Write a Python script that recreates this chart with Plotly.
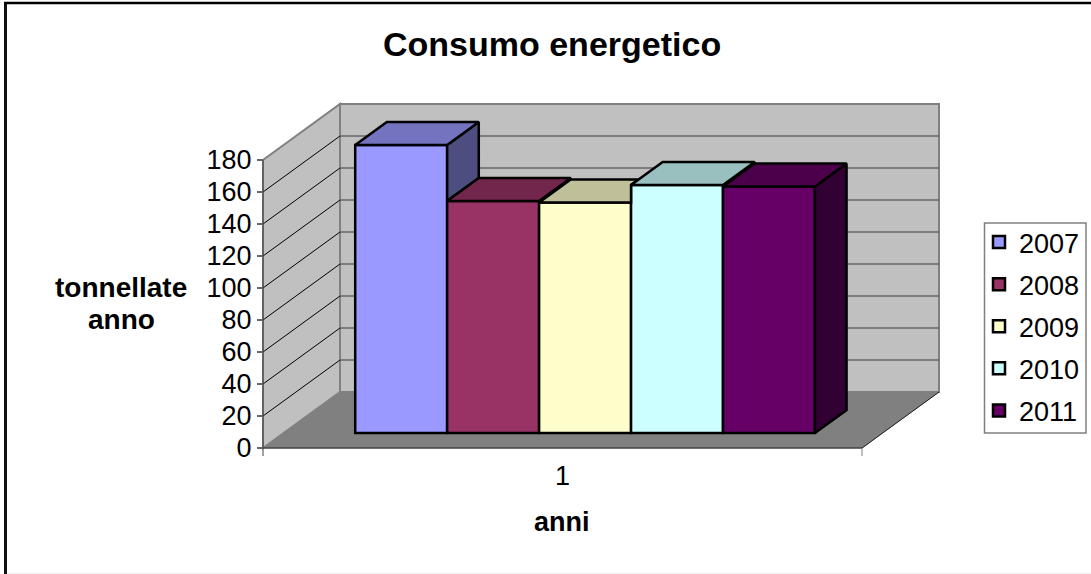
import plotly.graph_objects as go

# --- data ---
YEARS = ["2007", "2008", "2009", "2010", "2011"]
VALUES = [180, 145, 144, 155, 154]
COLORS = ["#9999FF", "#993366", "#FFFFCC", "#CCFFFF", "#660066"]
TOP_COLORS = ["#7373BF", "#72264C", "#BFBF99", "#99BFBF", "#4C004C"]
SIDE_COLORS = ["#4D4D80", "#4D1A33", "#808066", "#668080", "#330033"]
Y_TICKS = list(range(0, 181, 20))
TITLE = "Consumo energetico"
Y_TITLE_LINES = ["tonnellate", "anno"]
X_TITLE = "anni"
CATEGORY_LABEL = "1"

# --- layout constants ---
W, H = 1091, 574
X0_PX, X1_PX = 263, 862
Y0_PX = 448
PX_PER_UNIT = 1.6
X_SCALE = X1_PX - X0_PX
DEPTH_X = 77 / X_SCALE
DEPTH_Y = 56 / PX_PER_UNIT
D0, D1 = 15 / 56, 38 / 56
BAR_START = 0.1195
BAR_W = 0.1535
Y_MAX = 180
LW = 2.5


def proj(x, d, v):
    return x + d * DEPTH_X, v + d * DEPTH_Y


def path(points):
    return "M" + "L".join(f"{x},{y}" for x, y in points) + "Z"


def poly_shape(points, fill, line_color, width=1):
    return dict(type="path", xref="x", yref="y", path=path(points), fillcolor=fill,
                line=dict(color=line_color, width=width), layer="below")


def line_shape(a, b, color, width=1):
    return dict(type="line", xref="x", yref="y", x0=a[0], y0=a[1], x1=b[0], y1=b[1],
                line=dict(color=color, width=width), layer="below")


def paper_line(x0, y0, x1, y1, color, width):
    return dict(type="line", xref="paper", yref="paper", x0=x0 / W, x1=x1 / W, y0=1 - y0 / H, y1=1 - y1 / H,
                line=dict(color=color, width=width), layer="below")


shapes = [
    # chart frame
    paper_line(5.5, 2, 5.5, H, "#111111", 3),
    paper_line(4, 3, W, 3, "#000000", 2.5),
    paper_line(7, H - 0.5, W, H - 0.5, "#EEEEEE", 1),
    # legend box
    dict(type="rect", xref="paper", yref="paper", x0=984.5 / W, x1=1086 / W, y0=1 - 223 / H, y1=1 - 433 / H,
         line=dict(color="#808080", width=1.5), fillcolor="#FFFFFF", layer="below"),
    # walls and floor
    poly_shape([proj(0, 1, 0), proj(1, 1, 0), proj(1, 1, Y_MAX), proj(0, 1, Y_MAX)], "#C0C0C0", "#808080", 2),
    poly_shape([proj(0, 0, 0), proj(0, 1, 0), proj(0, 1, Y_MAX), proj(0, 0, Y_MAX)], "#C0C0C0", "#808080", 2),
    poly_shape([proj(0, 0, 0), proj(1, 0, 0), proj(1, 1, 0), proj(0, 1, 0)], "#808080", "#808080", 1),
]
for t in Y_TICKS[1:]:
    if t != Y_MAX:
        shapes.append(line_shape(proj(0, 1, t), proj(1, 1, t), "#666666", 1.5))
        shapes.append(line_shape(proj(0, 0, t), proj(0, 1, t), "#000000", 1))
shapes += [
    line_shape(proj(0, 0, 0), proj(1, 0, 0), "#222222", 1),
    line_shape(proj(1, 0, 0), proj(1, 1, 0), "#222222", 1),
    line_shape(proj(0, 0, -5), proj(0, 0, Y_MAX), "#444444", 1),
    line_shape(proj(1, 0, -5), proj(1, 0, 0), "#808080", 1),
]

fig = go.Figure()

# front faces: real bars, lifted by the depth of the bars on the floor
for i, (year, val, col) in enumerate(zip(YEARS, VALUES, COLORS)):
    left = BAR_START + i * BAR_W
    fig.add_trace(go.Bar(
        x=[left + BAR_W / 2 + D0 * DEPTH_X], y=[val], base=[D0 * DEPTH_Y], width=BAR_W,
        name=year, legendgroup=year, marker=dict(color=col, line=dict(color="#000000", width=LW)),
        hovertemplate=f"{year}: %{{y}}<extra></extra>",
    ))


def face(points, fill):
    xs = [p[0] for p in points] + [points[0][0]]
    ys = [p[1] for p in points] + [points[0][1]]
    fig.add_trace(go.Scatter(x=xs, y=ys, mode="lines", fill="toself", fillcolor=fill,
                             line=dict(color="#000000", width=LW), showlegend=False,
                             hoverinfo="skip"))


# top and side faces, with what the next bar hides cut away
for i, val in enumerate(VALUES):
    left = BAR_START + i * BAR_W
    right = left + BAR_W
    nxt = VALUES[i + 1] if i + 1 < len(VALUES) else 0
    if nxt < val:
        face([proj(right, D0, max(nxt, 0)), proj(right, D1, max(nxt, 0)),
              proj(right, D1, val), proj(right, D0, val)], SIDE_COLORS[i])
    if nxt > val:
        # back edge of this top meets the left edge of the taller neighbour's top
        rise = (D1 - D0) * DEPTH_Y
        t = max(0, (val + rise - nxt) / rise)
        cut_x = proj(right, D0 + t * (D1 - D0), nxt)[0]
        pts = [proj(left, D0, val), proj(right, D0, val), proj(right, D0, nxt),
               (cut_x, val + D1 * DEPTH_Y), proj(left, D1, val)]
    else:
        pts = [proj(left, D0, val), proj(right, D0, val), proj(right, D1, val), proj(left, D1, val)]
    face(pts, TOP_COLORS[i])

font = "Liberation Sans"
annotations = [
    dict(text=f"<b>{TITLE}</b>", xref="paper", yref="paper", x=552 / W, y=1 - 44 / H, showarrow=False,
         xanchor="center", yanchor="middle", font=dict(size=34)),
    dict(text=f"<b>{X_TITLE}</b>", xref="paper", yref="paper", x=562 / W, y=1 - 522 / H, showarrow=False,
         xanchor="center", yanchor="middle", font=dict(size=27)),
]
for line, y_px in zip(Y_TITLE_LINES, [287, 319]):
    annotations.append(dict(text=f"<b>{line}</b>", xref="paper", yref="paper", x=121 / W, y=1 - y_px / H,
                            showarrow=False, xanchor="center", yanchor="middle", font=dict(size=28)))

fig.update_layout(
    width=W, height=H, autosize=False,
    margin=dict(l=0, r=0, t=0, b=0, pad=0),
    paper_bgcolor="#FFFFFF", plot_bgcolor="#FFFFFF",
    barmode="overlay",
    font=dict(family=font, color="#000000", size=26),
    shapes=shapes,
    xaxis=dict(range=[-X0_PX / X_SCALE, (W - X0_PX) / X_SCALE], anchor="free", position=1 - Y0_PX / H,
               tickmode="array", tickvals=[0.5], ticktext=[CATEGORY_LABEL], ticks="", showgrid=False,
               zeroline=False, showline=False, tickfont=dict(size=27), ticklabelstandoff=9),
    yaxis=dict(range=[(Y0_PX - H) / PX_PER_UNIT, Y0_PX / PX_PER_UNIT], anchor="free",
               position=X0_PX / W, tickmode="array", tickvals=Y_TICKS, ticks="outside", ticklen=6,
               tickwidth=1.5, tickcolor="#666666", showgrid=False, zeroline=False, showline=False,
               tickfont=dict(size=27)),
    legend=dict(x=979 / W, y=1 - 218 / H, xanchor="left", yanchor="top", borderwidth=0,
                bgcolor="rgba(0,0,0,0)", font=dict(size=27), traceorder="grouped",
                tracegroupgap=4),
    annotations=annotations,
)

fig.write_html("out.html", config={"displayModeBar": False},
               post_script="document.body.style.margin='0';document.body.style.overflow='hidden';")
